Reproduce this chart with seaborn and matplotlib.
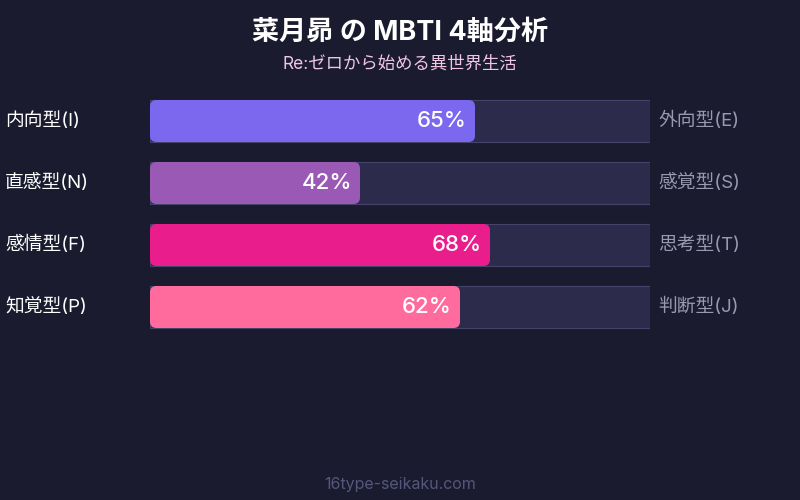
import matplotlib
matplotlib.use("Agg")
import matplotlib.pyplot as plt
from matplotlib.patches import FancyBboxPatch
import seaborn as sns
import pandas as pd

# MBTI axes for 菜月昴
left_labels = ["内向型(I)", "直感型(N)", "感情型(F)", "知覚型(P)"]
right_labels = ["外向型(E)", "感覚型(S)", "思考型(T)", "判断型(J)"]
scores = [65, 42, 68, 62]
bar_colors = ["#7b68ee", "#9b59b6", "#e91e8c", "#ff6b9d"]

BG = "#1a1b2e"
TRACK = "#2c2b4b"
TRACK_EDGE = "#44436a"

sns.set_theme(style="white")
plt.rcParams["font.family"] = ["Inter", "Noto Sans CJK JP", "DejaVu Sans"]

df = pd.DataFrame({"axis": left_labels, "score": scores})

fig = plt.figure(figsize=(8, 5), dpi=100, facecolor=BG)
ax = fig.add_axes([150 / 800, (500 - 338) / 500, 500 / 800, 248 / 500])
ax.set_facecolor(BG)

bar_h = 42 / 62

# background tracks (full 100%)
sns.barplot(x=[100] * len(left_labels), y=left_labels, orient="h",
            color=TRACK, width=bar_h, ax=ax, saturation=1)
for p in ax.patches:
    p.set_edgecolor(TRACK_EDGE)
    p.set_linewidth(0.8)
n_track = len(ax.patches)

# score bars
sns.barplot(data=df, x="score", y="axis", orient="h", hue="axis",
            palette=bar_colors, width=bar_h, ax=ax, legend=False, saturation=1)

# swap the score rectangles for rounded ones
score_patches = list(ax.patches)[n_track:]
for p in score_patches:
    x0, y0 = p.get_x(), p.get_y()
    w, h = p.get_width(), p.get_height()
    fc = p.get_facecolor()
    p.remove()
    ax.add_patch(FancyBboxPatch((x0, y0), w, h,
                                boxstyle="round,pad=0,rounding_size=1.3",
                                mutation_aspect=5 / 62,
                                facecolor=fc, edgecolor="none", zorder=3))

ax.set_xlim(0, 100)
ax.set_ylim(3.5, -0.5)
ax.axis("off")

for i, v in enumerate(scores):
    ax.text(v - 1.6, i, f"{v}%", ha="right", va="center", color="white",
            fontsize=16, fontweight="medium", zorder=4)

for i, (l, r) in enumerate(zip(left_labels, right_labels)):
    y_fig = (500 - (121 + 62 * i)) / 500
    fig.text(5 / 800, y_fig, l, ha="left", va="center", color="white", fontsize=13.5)
    fig.text(658 / 800, y_fig, r, ha="left", va="center", color="#9a99b0", fontsize=13.5)

fig.text(0.5, (500 - 33) / 500, "菜月昴 の MBTI 4軸分析", ha="center", va="center",
         color="white", fontsize=19.5, fontweight="bold")
fig.text(0.5, (500 - 64) / 500, "Re:ゼロから始める異世界生活", ha="center", va="center",
         color="#f0c6e4", fontsize=12.5)
fig.text(0.5, (500 - 485) / 500, "16type-seikaku.com", ha="center", va="center",
         color="#56567a", fontsize=11.5)

fig.savefig("out.png", dpi=100, facecolor=BG)
